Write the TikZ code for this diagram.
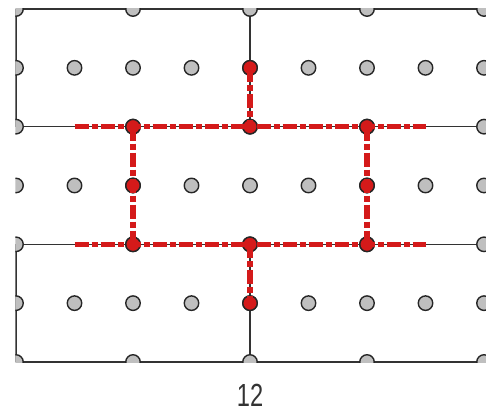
\documentclass[tikz,border=0pt]{standalone}
\usepackage{fontspec}
\setmainfont{Liberation Sans}
\definecolor{hotred}{RGB}{212,26,26}
\begin{document}
\begin{tikzpicture}[x=1pt,y=1pt,
  gridline/.style={line width=1.6pt, draw=black!80},
  dot/.style={circle, draw=black!85, line width=1.4pt, fill=black!25, minimum size=14.5pt, inner sep=0pt},
  hotdot/.style={dot, fill=hotred},
  redline/.style={line width=5.5pt, draw=hotred, dash pattern=on 14pt off 3pt on 6pt off 3pt}
]
\useasboundingbox (0,0) rectangle (486,414);
\begin{scope}
\clip (15.3,51.5) rectangle (486,405.7);
\begin{scope}[shift={(16,405)}, x=58.5pt, y=-58.83pt]
  \foreach \c in {0,...,8} \foreach \r in {0,...,6} \coordinate (p-\c-\r) at (\c,\r);
  % grid lines
  \foreach \r in {0,2,4,6} \draw[gridline] (p-0-\r) -- ([xshift=10pt]p-8-\r);
  \draw[gridline] (p-0-0) -- (p-0-2);
  \draw[gridline] (p-0-4) -- (p-0-6);
  \draw[gridline] (p-4-0) -- (p-4-2);
  \draw[gridline] (p-4-4) -- (p-4-6);
  % dots
  \foreach \r in {1,3,5} \foreach \c in {0,...,8} \node[dot] (n-\c-\r) at (p-\c-\r) {};
  \foreach \r in {0,2,4,6} \foreach \c in {0,2,4,6,8} \node[dot] (n-\c-\r) at (p-\c-\r) {};
  \foreach \c/\r in {2/2,4/2,6/2,2/3,6/3,2/4,4/4,6/4,4/1,4/5} \node[hotdot] (h-\c-\r) at (p-\c-\r) {};
  % red path
  \draw[redline] (p-1-2) -- (p-7-2);
  \draw[redline] (p-1-4) -- (p-7-4);
  \draw[redline] (h-2-2.center) -- (h-2-4.center);
  \draw[redline] (h-6-2.center) -- (h-6-4.center);
  \draw[redline] (h-4-1.center) -- (h-4-2.center);
  \draw[redline] (h-4-4.center) -- (h-4-5.center);
\end{scope}
\end{scope}
\node[font=\fontsize{32}{32}\selectfont, xscale=0.74, text=black!80] (lbl) at (250,19) {12};
\end{tikzpicture}
\end{document}
